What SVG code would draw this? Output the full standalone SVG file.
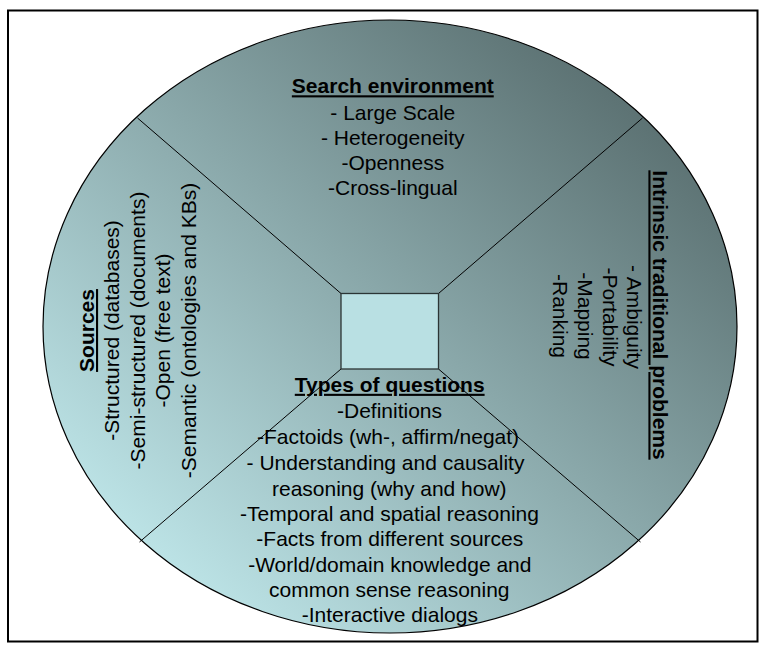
<svg xmlns="http://www.w3.org/2000/svg" width="766" height="651" viewBox="0 0 766 651">
<defs>
<linearGradient id="bg" x1="0" y1="1" x2="1" y2="0">
<stop offset="0.15" stop-color="#bbe2e5"/>
<stop offset="0.85" stop-color="#5d7374"/>
</linearGradient>
<style>
text{font-family:"Liberation Sans",Arial,sans-serif;font-size:21px;fill:#000;text-anchor:middle}
.t{font-weight:bold;text-decoration:underline}
.conn line{stroke:#000;stroke-width:1}
</style>
</defs>
<rect x="8" y="10.5" width="749.5" height="631" fill="#fff" stroke="#000" stroke-width="2"/>
<g id="circle"><ellipse cx="390" cy="326.5" rx="347" ry="306.5" fill="url(#bg)" stroke="#000" stroke-width="1.2"/></g>
<g id="connectors" class="conn">
<line x1="341" y1="293.5" x2="137.5" y2="118"/>
<line x1="438.5" y1="293.5" x2="642.5" y2="118"/>
<line x1="341" y1="369" x2="139.5" y2="542"/>
<line x1="438.5" y1="369" x2="640.5" y2="542"/>
</g>
<g id="center"><rect x="341" y="293.5" width="97.5" height="75.5" fill="#b9e0e3" stroke="#2b3535" stroke-width="1.3"/></g>
<g id="search-environment">
<text class="t" x="392.8" y="93.3">Search environment</text>
<text x="392.8" y="120">- Large Scale</text>
<text x="392.8" y="145">- Heterogeneity</text>
<text x="392.8" y="170">-Openness</text>
<text x="392.8" y="195">-Cross-lingual</text>
</g>
<g id="sources">
<text class="t" transform="translate(94,330.5) rotate(-90)">Sources</text>
<text transform="translate(119,330.5) rotate(-90)">-Structured (databases)</text>
<text transform="translate(144.5,330.5) rotate(-90)">-Semi-structured (documents)</text>
<text transform="translate(170,330.5) rotate(-90)">-Open (free text)</text>
<text transform="translate(195.7,330.5) rotate(-90)">-Semantic (ontologies and KBs)</text>
</g>
<g id="intrinsic-problems">
<text class="t" transform="translate(652.5,315) rotate(90)">Intrinsic traditional problems</text>
<text transform="translate(626.5,317) rotate(90)">- Ambiguity</text>
<text transform="translate(602.5,317) rotate(90)">-Portability</text>
<text transform="translate(578,316) rotate(90)">-Mapping</text>
<text transform="translate(552.5,316) rotate(90)">-Ranking</text>
</g>
<g id="types-of-questions">
<text class="t" x="389.7" y="391.8">Types of questions</text>
<text x="389.5" y="418.3">-Definitions</text>
<text x="388" y="443.8">-Factoids (wh-, affirm/negat)</text>
<text x="385.5" y="469.5">- Understanding and causality</text>
<text x="389.3" y="495.5">reasoning (why and how)</text>
<text x="389.5" y="520.8">-Temporal and spatial reasoning</text>
<text x="389.8" y="546.2">-Facts from different sources</text>
<text x="389.8" y="571.5">-World/domain knowledge and</text>
<text x="389.3" y="596.8">common sense reasoning</text>
<text x="389.8" y="622">-Interactive dialogs</text>
</g>
</svg>
